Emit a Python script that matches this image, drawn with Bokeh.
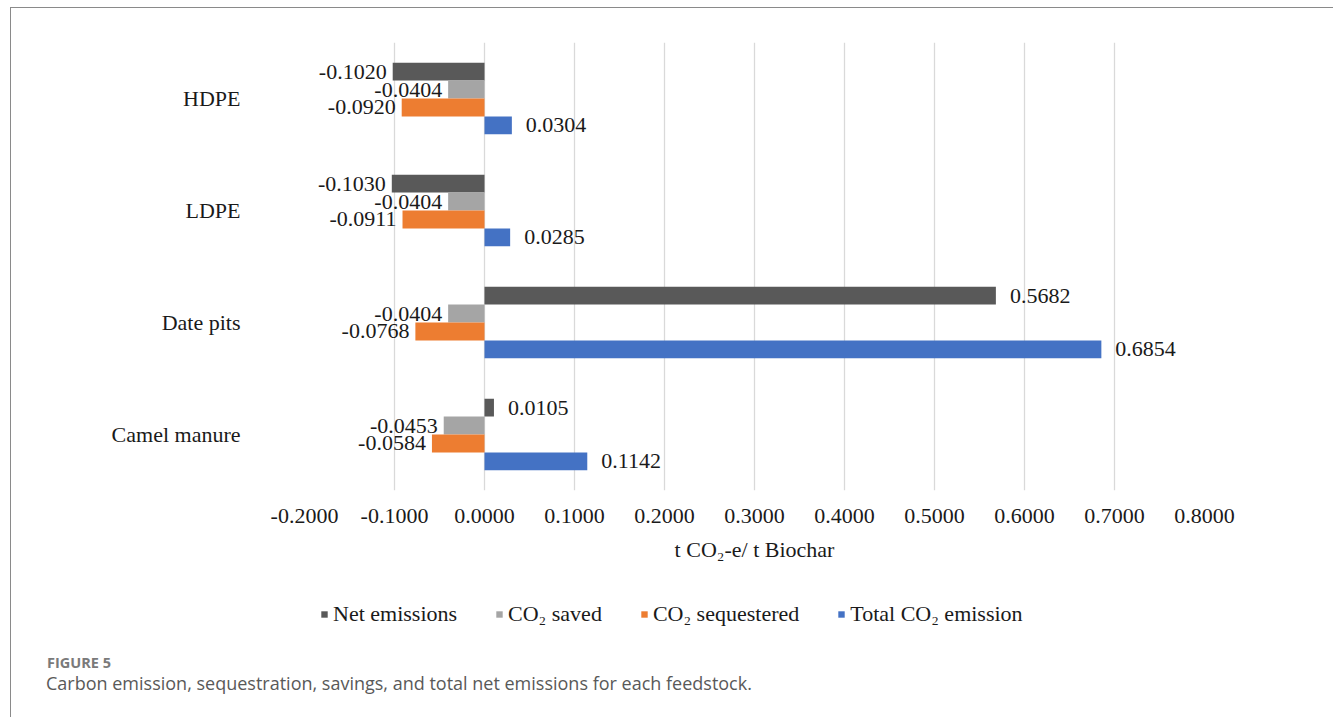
from bokeh.plotting import figure
from bokeh.layouts import column
from bokeh.models import (ColumnDataSource, FactorRange, Range1d, Legend, LegendItem,
                          Div, FixedTicker, NumeralTickFormatter)
from bokeh.transform import dodge
from bokeh.core.properties import value
from bokeh.embed import file_html
from bokeh.resources import INLINE

# ---- data ----
feedstocks = ["HDPE", "LDPE", "Date pits", "Camel manure"]
net_emissions = [-0.1020, -0.1030, 0.5682, 0.0105]
co2_saved = [-0.0404, -0.0404, -0.0404, -0.0453]
co2_sequestered = [-0.0920, -0.0911, -0.0768, -0.0584]
total_co2_emission = [0.0304, 0.0285, 0.6854, 0.1142]
series_names = ["Net emissions", "CO\u2082 saved", "CO\u2082 sequestered", "Total CO\u2082 emission"]
x_ticks = [-0.2, -0.1, 0.0, 0.1, 0.2, 0.3, 0.4, 0.5, 0.6, 0.7, 0.8]
x_title = "t CO\u2082-e/ t Biochar"
fig_label = "FIGURE 5"
caption = "Carbon emission, sequestration, savings, and total net emissions for each feedstock."

series_values = [net_emissions, co2_saved, co2_sequestered, total_co2_emission]
colors = ["#595959", "#A5A5A5", "#ED7D31", "#4472C4"]
offsets = [0.24, 0.08, -0.08, -0.24]

SERIF = "Liberation Serif"
TXT = "#1a1a1a"
W = 1321

# ---------------- main chart ----------------
p = figure(
    y_range=FactorRange(factors=list(reversed(feedstocks)), range_padding=0),
    x_range=Range1d(-0.2, 0.8),
    frame_width=900, frame_height=448,
    min_border_left=293, min_border_right=128, min_border_top=34, min_border_bottom=100,
    output_backend="svg", toolbar_location=None,
)
p.outline_line_color = None
p.background_fill_color = "white"
p.border_fill_color = "white"

p.ygrid.grid_line_color = None
p.xgrid.grid_line_color = "#D9D9D9"
p.xgrid.grid_line_width = 1.3

p.xaxis.ticker = FixedTicker(ticks=x_ticks)
p.xaxis.formatter = NumeralTickFormatter(format="0.0000")
p.xaxis.axis_line_color = None
p.xaxis.major_tick_line_color = None
p.xaxis.minor_tick_line_color = None
p.xaxis.major_tick_out = 0
p.xaxis.minor_tick_out = 0
p.xaxis.major_label_text_font = SERIF
p.xaxis.major_label_text_font_size = "22px"
p.xaxis.major_label_text_color = TXT
p.xaxis.major_label_standoff = 18
p.xaxis.axis_label = x_title
p.xaxis.axis_label_text_font = SERIF
p.xaxis.axis_label_text_font_size = "22px"
p.xaxis.axis_label_text_font_style = "normal"
p.xaxis.axis_label_text_color = TXT
p.xaxis.axis_label_standoff = 11

p.yaxis.axis_line_color = None
p.yaxis.major_tick_line_color = None
p.yaxis.minor_tick_line_color = None
p.yaxis.major_tick_out = 0
p.yaxis.minor_tick_out = 0
p.yaxis.major_label_text_font = SERIF
p.yaxis.major_label_text_font_size = "22px"
p.yaxis.major_label_text_color = TXT
p.yaxis.major_label_standoff = 64

for name, vals, col, off in zip(series_names, series_values, colors, offsets):
    src = ColumnDataSource(dict(
        cat=feedstocks,
        val=vals,
        lbl=["{:.4f}".format(v) for v in vals],
        align=["right" if v < 0 else "left" for v in vals],
        xo=[-6 if v < 0 else 14 for v in vals],
    ))
    p.hbar(y=dodge("cat", off, range=p.y_range), left=0, right="val", height=0.16,
           fill_color=col, line_color=None, source=src)
    p.text(x="val", y=dodge("cat", off, range=p.y_range), text="lbl", source=src,
           text_align="align", x_offset="xo", text_baseline="middle",
           text_font=value(SERIF), text_font_size="22px", text_color=TXT)

# ---------------- legend strip ----------------
H2 = 55
p2 = figure(width=W, height=H2, x_range=Range1d(-1, 1), y_range=Range1d(-1, len(feedstocks)),
            min_border_left=0, min_border_right=0, min_border_top=0, min_border_bottom=0,
            x_axis_location=None, y_axis_location=None,
            output_backend="svg", toolbar_location=None)
p2.outline_line_color = None
p2.xgrid.grid_line_color = None
p2.ygrid.grid_line_color = None
p2.border_fill_color = "white"
p2.background_fill_color = "white"

# legend proxies (hidden) carrying the same series
items = []
for name, vals, col in zip(series_names, series_values, colors):
    r = p2.hbar(y=list(range(len(vals))), right=vals, left=0, height=0.1,
                fill_color=col, line_color=None, visible=False)
    items.append(LegendItem(label=name, renderers=[r]))

legend = Legend(items=items, orientation="horizontal", location=(16, H2 - 27 - 11 + 1),
                glyph_width=8, glyph_height=8, label_standoff=5, spacing=38,
                padding=0, margin=0, border_line_color=None, background_fill_alpha=0,
                inactive_fill_alpha=0,
                label_text_font=SERIF, label_text_font_size="22px", label_text_color=TXT)
p2.add_layout(legend, "center")

# ---------------- caption ----------------
cap_html = (
    '<div style="font-family:\'Open Sans\';padding-top:3px;margin-left:31px;">'
    '<div style="font-size:14.5px;font-weight:bold;color:#7a7a7a;line-height:20px;">'
    + fig_label + '</div>'
    '<div style="font-size:18px;color:#595959;line-height:20px;margin-left:-1px;">'
    + caption + '</div></div>'
)
cap = Div(text=cap_html, width=W, height=70)

layout = column(p, p2, cap, spacing=0)
layout.styles = {"border": "1px solid #8a8a8a", "margin-left": "10px", "margin-top": "7px",
                 "background-color": "white"}

open("out.html", "w").write(file_html(layout, INLINE))
